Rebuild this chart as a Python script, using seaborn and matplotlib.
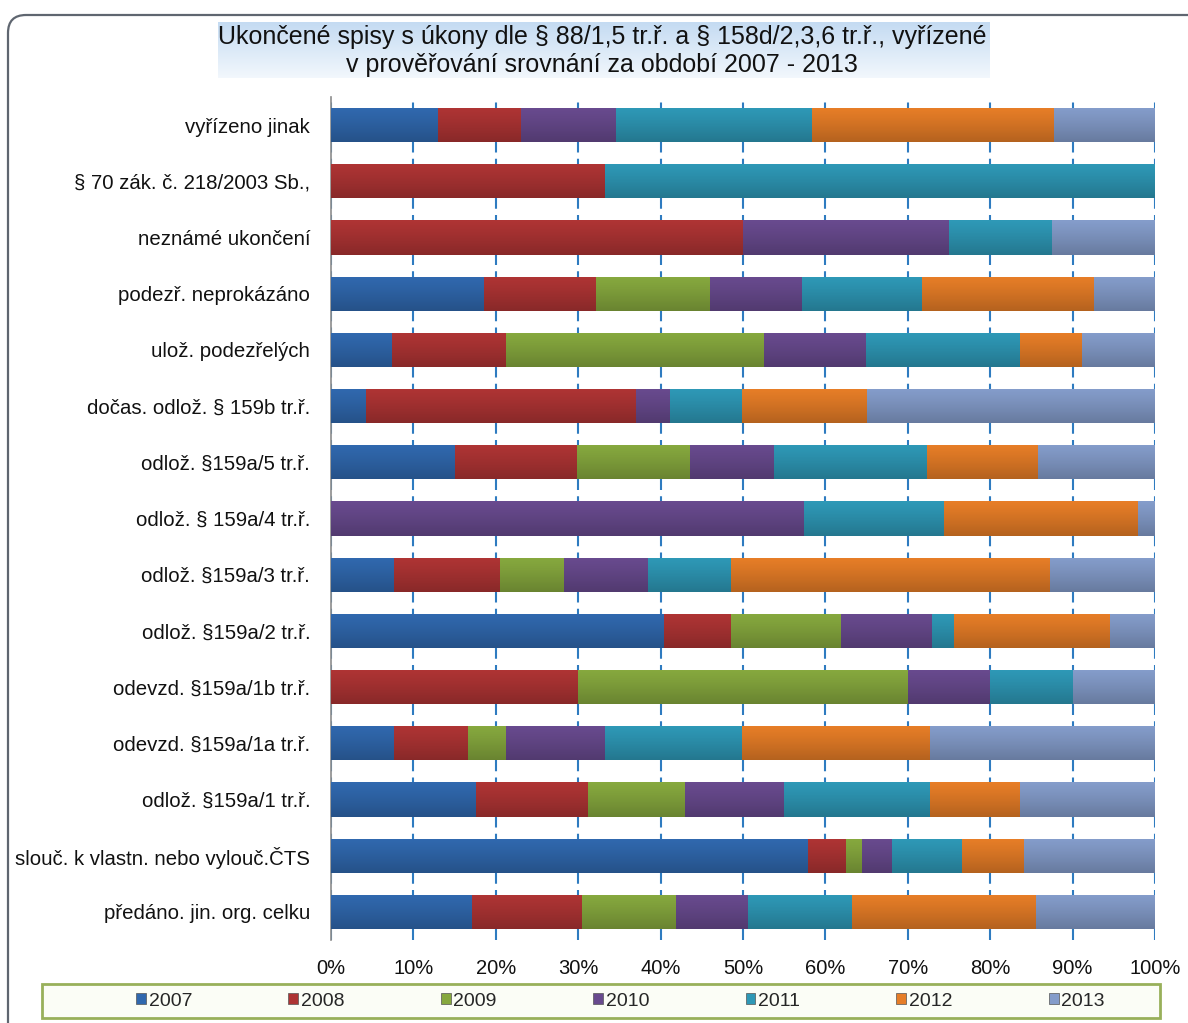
import matplotlib
matplotlib.use("Agg")
import matplotlib.pyplot as plt
import matplotlib.transforms as mtransforms
import numpy as np
import pandas as pd
import seaborn as sns
from matplotlib.patches import FancyBboxPatch, Rectangle

categories = [
    "vyřízeno jinak",
    "§ 70 zák. č. 218/2003 Sb.,",
    "neznámé ukončení",
    "podezř. neprokázáno",
    "ulož. podezřelých",
    "dočas. odlož. § 159b tr.ř.",
    "odlož. §159a/5 tr.ř.",
    "odlož. § 159a/4 tr.ř.",
    "odlož. §159a/3 tr.ř.",
    "odlož. §159a/2 tr.ř.",
    "odevzd. §159a/1b tr.ř.",
    "odevzd. §159a/1a tr.ř.",
    "odlož. §159a/1 tr.ř.",
    "slouč. k vlastn. nebo vylouč.ČTS",
    "předáno. jin. org. celku",
]
years = ["2007", "2008", "2009", "2010", "2011", "2012", "2013"]

# shares in % (rows sum to 100)
share_2007 = [13.0, 0, 0, 18.6, 7.4, 4.2, 15.1, 0, 7.7, 40.4, 0, 7.7, 17.6, 57.9, 17.1]
share_2008 = [10.0, 33.3, 50.0, 13.5, 13.8, 32.8, 14.8, 0, 12.8, 8.2, 30.0, 8.9, 13.6, 4.6, 13.4]
share_2009 = [0, 0, 0, 13.9, 31.4, 0, 13.7, 0, 7.8, 13.3, 40.0, 4.6, 11.8, 1.9, 11.4]
share_2010 = [11.6, 0, 25.0, 11.2, 12.3, 4.1, 10.2, 57.4, 10.2, 11.0, 10.0, 12.1, 12.0, 3.7, 8.7]
share_2011 = [23.8, 66.7, 12.5, 14.5, 18.7, 8.8, 18.5, 17.0, 10.1, 2.7, 10.0, 16.6, 17.7, 8.5, 12.6]
share_2012 = [29.3, 0, 0, 20.9, 7.6, 15.2, 13.5, 23.5, 38.7, 18.9, 0, 22.8, 10.9, 7.5, 22.4]
share_2013 = [12.3, 0, 12.5, 7.4, 8.8, 34.9, 14.2, 2.1, 12.7, 5.5, 10.0, 27.3, 16.4, 15.9, 14.4]

colors = ["#3068AE", "#AE3434", "#86A83E", "#684A8E", "#2E98B6", "#E67D27", "#849CCA"]

sns.set_theme(style="white")
plt.rcParams["font.family"] = ["Liberation Sans", "DejaVu Sans"]

df = pd.DataFrame({
    "kategorie": categories,
    "2007": share_2007,
    "2008": share_2008,
    "2009": share_2009,
    "2010": share_2010,
    "2011": share_2011,
    "2012": share_2012,
    "2013": share_2013,
})
cum = df[years].cumsum(axis=1)

W, H = 1188, 1023
fig = plt.figure(figsize=(W / 100, H / 100), dpi=100, facecolor="white")

# chart frame
frame = FancyBboxPatch((8, -20), W + 20, H + 20 - 15,
                       boxstyle="round,pad=0,rounding_size=18",
                       transform=mtransforms.IdentityTransform(),
                       facecolor="none", edgecolor="#5f6670", linewidth=1.6,
                       zorder=-5)
fig.add_artist(frame)

ax = fig.add_axes([331 / W, 1 - 940 / H, 824 / W, 843 / H])

bar_w = 0.61
# stacked bars: draw cumulative totals from the last year back
for year, color in reversed(list(zip(years, colors))):
    sns.barplot(x=cum[year], y=df["kategorie"], order=categories, color=color,
                orient="h", width=bar_w, saturation=1, errorbar=None,
                ax=ax, zorder=3, linewidth=0)

# darker lower half, like the shaded bars of the original
shade = np.zeros((32, 1, 4))
shade[:, 0, 3] = np.linspace(0.0, 0.28, 32) ** 1.2
for i in range(len(categories)):
    ax.imshow(shade, aspect="auto", zorder=4, interpolation="bilinear",
              extent=[0, cum["2013"][i], i + bar_w / 2, i - bar_w / 2])

ax.set_xlim(0, 100)
ax.set_ylim(14.5, -0.5)
ax.set_xticks(np.arange(0, 101, 10))
ax.set_xticklabels([f"{v}%" for v in range(0, 101, 10)])
ax.set_xlabel("")
ax.set_ylabel("")
ax.set_facecolor("none")
ax.xaxis.grid(True, color="#2E7BC0", linestyle=(0, (6, 3)), linewidth=1.5)
ax.yaxis.grid(False)
ax.set_axisbelow(True)
for side in ["top", "right", "bottom"]:
    ax.spines[side].set_visible(False)
ax.spines["left"].set_color("#8c8c8c")
ax.spines["left"].set_linewidth(1.2)
ax.tick_params(axis="x", length=0, pad=14, labelsize=14.5, labelcolor="#111111")
ax.tick_params(axis="y", length=0, pad=15, labelsize=14.7, labelcolor="#111111")

# title with pale blue background
tax = fig.add_axes([218 / W, 1 - 78 / H, 772 / W, 56 / H])
grad = np.linspace(0, 1, 64).reshape(-1, 1)
top = np.array([0.77, 0.86, 0.95])
bottom = np.array([0.95, 0.97, 0.99])
img = top + (bottom - top) * grad[:, :, None]
tax.imshow(img, aspect="auto", extent=[0, 1, 0, 1])
tax.axis("off")
fig.text(602 / W, 1 - 37 / H,
         "Ukončené spisy s úkony dle § 88/1,5 tr.ř. a § 158d/2,3,6 tr.ř., vyřízené",
         ha="center", va="center", fontsize=18, color="#111111")
fig.text(602 / W, 1 - 65 / H, "v prověřování srovnání za období 2007 - 2013",
         ha="center", va="center", fontsize=18, color="#111111")

# legend box
lbox = Rectangle((42 / W, 1 - 1018 / H), 1118 / W, 34 / H,
                 transform=fig.transFigure, facecolor="#fbfdf6",
                 edgecolor="#98B05A", linewidth=2, zorder=-4)
fig.add_artist(lbox)
handles = [Rectangle((0, 0), 1, 1, facecolor=c, edgecolor="#555555", linewidth=0.5)
           for c in colors]
fig.legend(handles, years, loc="center left", ncol=7, mode="expand",
           bbox_to_anchor=(136 / W, 1 - 1018 / H, (1105 - 136) / W, 34 / H),
           frameon=False, fontsize=14, handlelength=0.5, handleheight=0.55,
           handletextpad=0.15, borderpad=0, borderaxespad=0)

fig.savefig("out.png", dpi=100)
